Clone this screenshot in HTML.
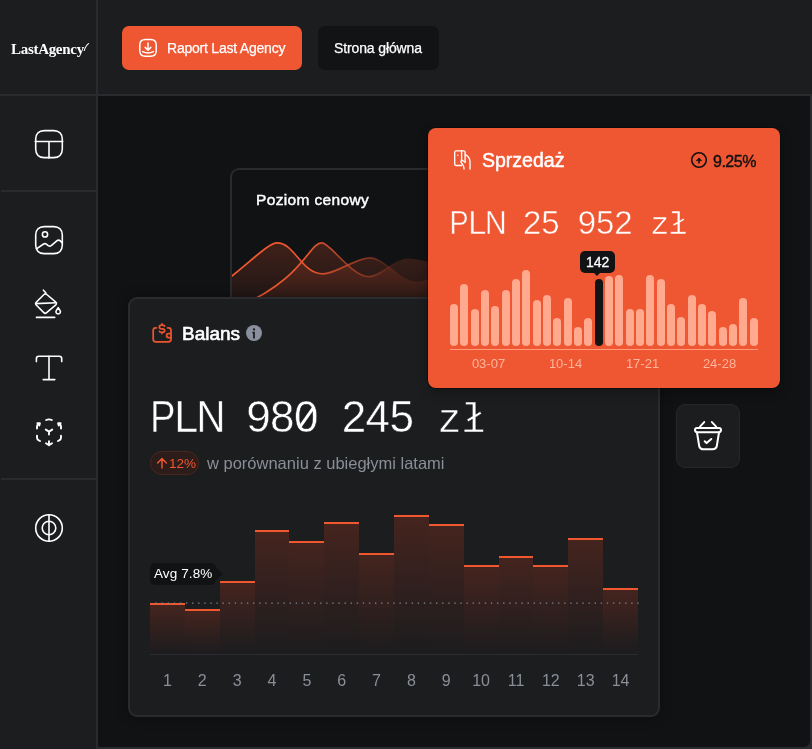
<!DOCTYPE html>
<html><head><meta charset="utf-8">
<style>
*{margin:0;padding:0;box-sizing:border-box}
html,body{width:812px;height:749px;overflow:hidden;background:#1c1d1f;font-family:"Liberation Sans",sans-serif;color:#fff}
.abs{position:absolute}
.vline{position:absolute;background:#2a2b2e}
#main{position:absolute;left:98px;top:96px;width:712px;height:651px;background:#111214;border-bottom-right-radius:6px;overflow:hidden}
.btn{position:absolute;top:26px;height:44px;border-radius:7px;font-size:14px;line-height:44px;white-space:nowrap}
.lbl{position:absolute;white-space:nowrap;will-change:transform}
.mono{position:absolute;display:flex;align-items:baseline;white-space:nowrap;font-family:"Liberation Sans",sans-serif;color:#fff}
.mono span{display:flex;justify-content:center;flex:none}
.mono i{font-style:normal;display:inline-block}
.z0{position:relative}
.z0:after{content:"";position:absolute;left:50%;top:50%;width:2.6px;height:25px;margin:-12.5px 0 0 -1.3px;background:#fff;transform:rotate(35deg)}
</style></head><body>
<!-- frame lines -->
<div class="vline" style="left:96px;top:0;width:2px;height:749px"></div>
<div class="vline" style="left:0;top:94px;width:812px;height:2px"></div>
<div class="vline" style="left:810px;top:96px;width:2px;height:653px"></div>
<div class="vline" style="left:98px;top:747px;width:714px;height:2px"></div>
<div class="vline" style="left:1px;top:190px;width:95px;height:2px"></div>
<div class="vline" style="left:1px;top:478px;width:95px;height:2px"></div>

<!-- logo -->
<div class="lbl" id="logo" style="left:11px;top:39px;font-family:'Liberation Serif',serif;font-weight:bold;font-size:15px;letter-spacing:-0.3px;line-height:20px">LastAgency</div>

<!-- header buttons -->
<div class="btn" style="left:122px;width:180px;background:#ef5632"></div>
<div class="lbl" id="t-raport" style="left:167px;top:38px;font-size:14px;line-height:20px;letter-spacing:-0.22px;-webkit-text-stroke:0.25px #fff">Raport Last Agency</div>
<div class="btn" style="left:318px;width:121px;background:#121315"></div>
<div class="lbl" id="t-strona" style="left:334px;top:38px;font-size:14px;line-height:20px;letter-spacing:-0.12px;-webkit-text-stroke:0.25px #fff">Strona główna</div>

<div class="vline" style="left:790px;top:727px;width:22px;height:22px"></div>
<div id="main"></div>



<style>
.card{position:absolute;border-radius:9px}
.sbar{position:absolute;width:8px;border-radius:4px}
.bbar{position:absolute;border-top:2.5px solid #f0572f;background:linear-gradient(#45241e,#1c1c1e)}
.blab{position:absolute;top:374px;width:35px;text-align:center;font-size:16px;color:#8a8e98;line-height:20px}
.slab{position:absolute;top:229px;width:77px;text-align:center;font-size:13px;color:#ffb49c;line-height:14px}
</style>
<!-- Poziom cenowy card -->
<div class="card" id="poziom" style="left:230px;top:168px;width:230px;height:160px;border:2px solid #2a2b2e;background:#111214;overflow:hidden">
  <div class="lbl" id="t-poziom" style="left:24px;top:20px;font-size:15.5px;line-height:20px;letter-spacing:0.35px;-webkit-text-stroke:0.45px #fff">Poziom cenowy</div>
  <svg class="abs" style="left:-2px;top:-2px" width="230" height="160" viewBox="230 168 230 160">
    <defs>
      <linearGradient id="fa" gradientUnits="userSpaceOnUse" x1="0" y1="240" x2="0" y2="300"><stop offset="0" stop-color="#f0572f" stop-opacity="0.22"/><stop offset="1" stop-color="#f0572f" stop-opacity="0.07"/></linearGradient>
      <linearGradient id="sa" gradientUnits="userSpaceOnUse" x1="230" y1="0" x2="430" y2="0"><stop offset="0" stop-color="#f5592f"/><stop offset="0.4" stop-color="#e8552f"/><stop offset="0.7" stop-color="#c84a2c" stop-opacity="0.5"/><stop offset="0.85" stop-color="#b8442a" stop-opacity="0"/></linearGradient>
    </defs>
    <path d="M215,289.4 C252,261 268.1,242.9 277.2,242.9 C294.8,242.9 301.5,273.9 323,273.9 C335.8,273.9 356,257.8 370,257.8 C384,257.8 400,281.5 417.6,281.5 C428,281.5 438,274 445,270 V330 H215 Z" fill="url(#fa)"/>
    <path d="M240,306 C304.2,278 308.6,242.9 322,242.9 C330.1,242.9 351.9,276.7 368.8,276.7 C382,276.7 394,258.5 408,258.5 C420,258.5 434,264 445,268 V330 H240 Z" fill="url(#fa)"/>
    <path d="M215,289.4 C252,261 268.1,242.9 277.2,242.9 C294.8,242.9 301.5,273.9 323,273.9 C335.8,273.9 356,257.8 370,257.8 C384,257.8 400,281.5 417.6,281.5 C428,281.5 438,274 445,270" stroke="url(#sa)" stroke-width="1.7" fill="none"/>
    <path d="M240,306 C304.2,278 308.6,242.9 322,242.9 C330.1,242.9 351.9,276.7 368.8,276.7 C382,276.7 394,258.5 408,258.5 C420,258.5 434,264 445,268" stroke="url(#sa)" stroke-width="1.7" fill="none"/>
  </svg>
</div>

<!-- Balans card -->
<div class="card" id="balans" style="left:128px;top:297px;width:532px;height:420px;border:2px solid #2a2b2e;background:#1c1d1f;box-shadow:0 0 12px rgba(0,0,0,0.35)">
</div>
<div class="abs" style="left:128px;top:297px;width:532px;height:420px">
  <div class="lbl" id="t-balans" style="left:54px;top:26px;font-size:19px;line-height:22px;-webkit-text-stroke:0.6px #fff">Balans</div>
  <div class="mono" id="t-big" style="left:22.9px;top:96px;font-size:44px;line-height:48px;-webkit-text-stroke:0.5px #1c1d1f"><span style="width:23.9px"><i style="transform:scaleX(0.87)">P</i></span><span style="width:23.9px"><i style="transform:scaleX(0.98)">L</i></span><span style="width:23.9px"><i style="transform:scaleX(0.91)">N</i></span><span style="width:23.9px"></span><span style="width:23.9px"><i>9</i></span><span style="width:23.9px"><i>8</i></span><span class="z0" style="width:23.9px"><i>0</i></span><span style="width:23.9px"></span><span style="width:23.9px"><i>2</i></span><span style="width:23.9px"><i>4</i></span><span style="width:23.9px"><i>5</i></span><span style="width:23.9px"></span><span style="width:23.9px;font-family:'Liberation Mono',monospace;font-size:40px"><i>z</i></span><span style="width:23.9px;font-family:'Liberation Mono',monospace;font-size:40px"><i>ł</i></span></div>
  <div class="abs" style="left:22px;top:154px;width:49px;height:24px;border-radius:12px;background:#2c1c1a;border:1px solid #4a2620"></div>
  <div class="lbl" id="t-12" style="left:41px;top:157.5px;font-size:13.5px;line-height:18px;color:#f0572f">12%</div>
  <div class="lbl" id="t-por" style="left:79px;top:157px;font-size:16.5px;line-height:18px;color:#8a8e98">w porównaniu z ubiegłymi latami</div>
  <div class="bbar" style="left:22.000px;top:306.0px;width:34.857px;height:51.0px"></div>
<div class="bbar" style="left:56.857px;top:311.8px;width:34.857px;height:45.2px"></div>
<div class="bbar" style="left:91.714px;top:283.7px;width:34.857px;height:73.3px"></div>
<div class="bbar" style="left:126.571px;top:233.0px;width:34.857px;height:124.0px"></div>
<div class="bbar" style="left:161.429px;top:244.0px;width:34.857px;height:113.0px"></div>
<div class="bbar" style="left:196.286px;top:225.0px;width:34.857px;height:132.0px"></div>
<div class="bbar" style="left:231.143px;top:256.0px;width:34.857px;height:101.0px"></div>
<div class="bbar" style="left:266.000px;top:217.8px;width:34.857px;height:139.2px"></div>
<div class="bbar" style="left:300.857px;top:226.8px;width:34.857px;height:130.2px"></div>
<div class="bbar" style="left:335.714px;top:268.0px;width:34.857px;height:89.0px"></div>
<div class="bbar" style="left:370.571px;top:259.0px;width:34.857px;height:98.0px"></div>
<div class="bbar" style="left:405.429px;top:268.0px;width:34.857px;height:89.0px"></div>
<div class="bbar" style="left:440.286px;top:241.0px;width:34.857px;height:116.0px"></div>
<div class="bbar" style="left:475.143px;top:291.0px;width:34.857px;height:66.0px"></div>
  <div class="abs" style="left:22px;top:357px;width:488px;height:1px;background:#2c2d30"></div>
  <svg class="abs" style="left:0;top:0" width="532" height="420"><line x1="27.4" y1="306.1" x2="512" y2="306.1" stroke="#80848e" stroke-width="1.3" stroke-dasharray="1.4 4.7"/></svg>
  <div class="blab" style="left:22.000px;width:34.857px">1</div><div class="blab" style="left:56.857px;width:34.857px">2</div><div class="blab" style="left:91.714px;width:34.857px">3</div><div class="blab" style="left:126.571px;width:34.857px">4</div><div class="blab" style="left:161.429px;width:34.857px">5</div><div class="blab" style="left:196.286px;width:34.857px">6</div><div class="blab" style="left:231.143px;width:34.857px">7</div><div class="blab" style="left:266.000px;width:34.857px">8</div><div class="blab" style="left:300.857px;width:34.857px">9</div><div class="blab" style="left:335.714px;width:34.857px">10</div><div class="blab" style="left:370.571px;width:34.857px">11</div><div class="blab" style="left:405.429px;width:34.857px">12</div><div class="blab" style="left:440.286px;width:34.857px">13</div><div class="blab" style="left:475.143px;width:34.857px">14</div>
  <div class="abs" style="left:22px;top:266px;width:66px;height:22px;border-radius:5px;background:#111214"></div>
  <div class="abs" style="left:87px;top:270px;width:0;height:0;border-top:7px solid transparent;border-bottom:7px solid transparent;border-left:8px solid #111214"></div>
  <div class="lbl" id="t-avg" style="left:26px;top:269px;font-size:13.5px;letter-spacing:0.1px;line-height:16px;color:#fff">Avg 7.8%</div>
</div>

<!-- basket button -->
<div class="card" style="left:676px;top:404px;width:64px;height:64px;background:#1c1d1f;border:1px solid #26272a;border-radius:9px"></div>

<!-- Sales card -->
<div class="card" id="sales" style="left:428px;top:128px;width:352px;height:260px;background:#ef5632;border-radius:8px;box-shadow:0 0 0 1px rgba(0,0,0,0.35),0 4px 12px rgba(0,0,0,0.3)">
  <div class="lbl" id="t-sprz" style="left:54px;top:21px;font-size:19.5px;line-height:22px;-webkit-text-stroke:0.5px #fff">Sprzedaż</div>
  <div class="lbl" id="t-925" style="left:285px;top:25px;font-size:16px;line-height:18px;color:#111;letter-spacing:-0.5px;-webkit-text-stroke:0.4px #111">9.25%</div>
  <div class="mono" id="t-pln" style="left:22.3px;top:77px;font-size:33px;line-height:36px;-webkit-text-stroke:0.5px #ef5632"><span style="width:18.23px"><i style="transform:scaleX(0.87)">P</i></span><span style="width:18.23px"><i style="transform:scaleX(0.98)">L</i></span><span style="width:18.23px"><i style="transform:scaleX(0.91)">N</i></span><span style="width:18.23px"></span><span style="width:18.23px"><i>2</i></span><span style="width:18.23px"><i>5</i></span><span style="width:18.23px"></span><span style="width:18.23px"><i>9</i></span><span style="width:18.23px"><i>5</i></span><span style="width:18.23px"><i>2</i></span><span style="width:18.23px"></span><span style="width:18.23px;font-family:'Liberation Mono',monospace;font-size:32px"><i>z</i></span><span style="width:18.23px;font-family:'Liberation Mono',monospace;font-size:32px"><i>ł</i></span></div>
  <div class="sbar" style="left:22.00px;top:175.8px;height:42.2px;background:#ffa98f"></div>
<div class="sbar" style="left:32.33px;top:156.0px;height:62.0px;background:#ffa98f"></div>
<div class="sbar" style="left:42.67px;top:181.0px;height:37.0px;background:#ffa98f"></div>
<div class="sbar" style="left:53.00px;top:162.0px;height:56.0px;background:#ffa98f"></div>
<div class="sbar" style="left:63.33px;top:177.8px;height:40.2px;background:#ffa98f"></div>
<div class="sbar" style="left:73.67px;top:162.0px;height:56.0px;background:#ffa98f"></div>
<div class="sbar" style="left:84.00px;top:151.0px;height:67.0px;background:#ffa98f"></div>
<div class="sbar" style="left:94.33px;top:141.7px;height:76.3px;background:#ffa98f"></div>
<div class="sbar" style="left:104.67px;top:172.0px;height:46.0px;background:#ffa98f"></div>
<div class="sbar" style="left:115.00px;top:166.7px;height:51.3px;background:#ffa98f"></div>
<div class="sbar" style="left:125.33px;top:189.8px;height:28.2px;background:#ffa98f"></div>
<div class="sbar" style="left:135.67px;top:169.8px;height:48.2px;background:#ffa98f"></div>
<div class="sbar" style="left:146.00px;top:198.8px;height:19.2px;background:#ffa98f"></div>
<div class="sbar" style="left:156.33px;top:189.8px;height:28.2px;background:#ffa98f"></div>
<div class="sbar" style="left:166.67px;top:151.0px;height:67.0px;background:#121314"></div>
<div class="sbar" style="left:177.00px;top:147.8px;height:70.2px;background:#ffa98f"></div>
<div class="sbar" style="left:187.33px;top:146.7px;height:71.3px;background:#ffa98f"></div>
<div class="sbar" style="left:197.67px;top:180.8px;height:37.2px;background:#ffa98f"></div>
<div class="sbar" style="left:208.00px;top:180.8px;height:37.2px;background:#ffa98f"></div>
<div class="sbar" style="left:218.33px;top:147.0px;height:71.0px;background:#ffa98f"></div>
<div class="sbar" style="left:228.67px;top:151.0px;height:67.0px;background:#ffa98f"></div>
<div class="sbar" style="left:239.00px;top:175.8px;height:42.2px;background:#ffa98f"></div>
<div class="sbar" style="left:249.33px;top:188.8px;height:29.2px;background:#ffa98f"></div>
<div class="sbar" style="left:259.67px;top:166.7px;height:51.3px;background:#ffa98f"></div>
<div class="sbar" style="left:270.00px;top:175.8px;height:42.2px;background:#ffa98f"></div>
<div class="sbar" style="left:280.33px;top:183.0px;height:35.0px;background:#ffa98f"></div>
<div class="sbar" style="left:290.67px;top:198.8px;height:19.2px;background:#ffa98f"></div>
<div class="sbar" style="left:301.00px;top:195.8px;height:22.2px;background:#ffa98f"></div>
<div class="sbar" style="left:311.33px;top:169.9px;height:48.1px;background:#ffa98f"></div>
<div class="sbar" style="left:321.67px;top:189.8px;height:28.2px;background:#ffa98f"></div>

  <div class="abs" style="left:22px;top:221px;width:308px;height:1px;background:#ff9a7c"></div>
  <div class="slab" style="left:22px">03-07</div><div class="slab" style="left:99px">10-14</div><div class="slab" style="left:176px">17-21</div><div class="slab" style="left:253px">24-28</div>
  <div class="abs" style="left:152px;top:123px;width:35px;height:22px;border-radius:5px;background:#121314"></div>
  <div class="abs" style="left:165px;top:144px;width:0;height:0;border-left:4.5px solid transparent;border-right:4.5px solid transparent;border-top:4px solid #121314"></div>
  <div class="lbl" id="t-142" style="left:158px;top:126px;font-size:14px;line-height:16px;-webkit-text-stroke:0.3px #fff">142</div>
</div>

<!-- sidebar + header icons -->
<svg class="abs" style="left:0;top:0" width="812" height="749" viewBox="0 0 812 749" fill="none" stroke="#fff" stroke-width="1.6" stroke-linecap="round" stroke-linejoin="round">
 <!-- layout -->
 <path d="M35.7,139.1 C35.7,133.83 38.93,130.6 44.2,130.6 H53.8 C59.07,130.6 62.3,133.83 62.3,139.1 V149.1 C62.3,154.37 59.07,157.6 53.8,157.6 H44.2 C38.93,157.6 35.7,154.37 35.7,149.1 Z"/>
 <path d="M35.3,141.5 H62.7 M49,141.5 V158"/>
 <!-- image -->
 <path d="M35.7,235.1 C35.7,229.83 38.93,226.6 44.2,226.6 H53.8 C59.07,226.6 62.3,229.83 62.3,235.1 V245.1 C62.3,250.37 59.07,253.6 53.8,253.6 H44.2 C38.93,253.6 35.7,250.37 35.7,245.1 Z"/>
 <circle cx="45" cy="234.4" r="2.6"/>
 <path d="M36.8,248.6 L43.6,244 C44.6,243.4 45.4,243.4 46.3,244.1 L48.2,245.6 C49.2,246.3 50.3,246.3 51.2,245.6 L56.8,240.8 C57.9,239.9 59.3,240 60.3,240.9 L62,242.6"/>
 <!-- bucket -->
 <path d="M43.4,290.2 L45.8,292.8"/>
 <path d="M44,294.5 C44.8,293.6 46,293.6 46.8,294.5 L55.8,302.2 C56.6,303 56.6,304 55.8,304.8 L46.6,312.6 C45.8,313.4 44.6,313.4 43.8,312.6 L36.2,305 C35.4,304.2 35.4,303 36.2,302.2 Z"/>
 <path d="M35.8,303.6 L56.4,302.8"/>
 <path d="M58.2,307.6 L56.3,310.6 C55.3,312.2 56.5,314 58.2,314 C59.9,314 61.1,312.2 60.1,310.6 Z"/>
 <path d="M36.4,317.4 H54.7"/>
 <!-- text T -->
 <path d="M36.4,361.6 V358.6 C36.4,357.2 37.4,356.3 38.8,356.3 H59.3 C60.7,356.3 61.7,357.2 61.7,358.6 V361.6"/>
 <path d="M49,356.3 V379.6 M43.2,379.6 H54.8"/>
 <!-- globe -->
 <circle cx="49" cy="528" r="13.3"/>
 <circle cx="49" cy="528" r="6.8"/>
 <path d="M49,514.7 V541.3"/>
 <!-- 3d rotate -->
 <g stroke-width="1.9">
 <path d="M46.2,420 C47.9,419.2 50.1,419.2 51.8,420"/>
 <path d="M37,428.6 V426.6 C37,425.4 37.6,424.5 38.6,423.9 L39.8,423.2 M37.4,423.3 L39.9,423.2 L39.3,425.6"/>
 <path d="M61,428.6 V426.6 C61,425.4 60.4,424.5 59.4,423.9 L58.2,423.2 M60.6,423.3 L58.1,423.2 L58.7,425.6"/>
 <path d="M37,435.8 V437.4 C37,438.5 37.6,439.6 38.6,440.2 L40,441"/>
 <path d="M61,435.8 V437.4 C61,438.5 60.4,439.6 59.4,440.2 L58,441"/>
 <path d="M49,441.2 V445 M46,443.2 L49,445.2 L52,443.2"/>
 <path d="M45.8,429.6 L49,431.6 L52.2,429.6 M49,431.6 V434.6"/>
 </g>
 
 <!-- download icon -->
 <path d="M139.8,45.1 C139.8,41.69 141.89,39.6 145.3,39.6 H150.7 C154.11,39.6 156.2,41.69 156.2,45.1 V50.7 C156.2,54.11 154.11,56.2 150.7,56.2 H145.3 C141.89,56.2 139.8,54.11 139.8,50.7 Z" stroke-width="1.5"/>
 <path d="M148,43 V50.2 M145.2,47.4 L148,50.2 L150.8,47.4" stroke-width="1.5"/>
 <path d="M142.6,51.6 C146,53.3 150,53.3 153.4,51.6" stroke-width="1.5"/>
 <!-- basket -->
 <g stroke-width="2">
 <path d="M704.2,422.1 L700,426.7 M711.9,422.1 L716.1,426.7"/>
 <path d="M697,428 H719 C720.2,428 721,428.9 721,430.1 C721,431.3 720.2,432.2 719,432.2 H697 C695.8,432.2 695,431.3 695,430.1 C695,428.9 695.8,428 697,428 Z"/>
 <path d="M697,432.5 L699.2,446 C699.6,448.3 701.3,449.3 703.6,449.3 H712.4 C714.7,449.3 716.4,448.3 716.8,446 L719,432.5"/>
 <path d="M704.7,441.2 L706.6,443.1 L711.3,439"/>
 </g>
 <!-- sales icon -->
 <g stroke-width="1.35">
 <path d="M465.1,162.2 V152.5 C465.1,151.6 464.4,150.9 463.5,150.9 H456.3 C455.4,150.9 454.7,151.6 454.7,152.5 V163.9 C454.7,164.8 455.4,165.5 456.3,165.5 H461.5"/>
 <path d="M461.6,151 V160.3"/>
 <path d="M465.1,162.2 L462.8,160.7 C461.7,160.1 460.4,161 461,162.2 L462.9,165 C463.6,166.1 464,167.2 464,168.4 V169"/>
 <path d="M465.3,154.6 C468.2,156 470,159 470,162.3 V169"/>
 </g>
 <circle cx="457.8" cy="155.2" r="0.8" fill="#fff" stroke="none"/>
 <!-- circle arrow -->
 <circle cx="699" cy="160" r="7.3" stroke="#111" stroke-width="1.6"/>
 <path d="M699,162.9 V159" stroke="#111" stroke-width="1.5"/>
 <path d="M696.6,160.4 L699,157.9 L701.4,160.4 Z" fill="#111" stroke="#111" stroke-width="0.7"/>
 <!-- wallet -->
 <g stroke="#ea552f" stroke-width="1.75">
 <path d="M156.4,327.8 H155.7 C154.3,327.8 153.2,328.9 153.2,330.3 V339.3 C153.2,340.7 154.3,341.8 155.7,341.8 H168.5 C169.9,341.8 171,340.7 171,339.3 V330.3 C171,328.9 169.9,327.8 168.5,327.8 H167.6"/>
 <path d="M171,333.6 H168.5 C167.4,333.6 166.6,334.4 166.6,335.5 C166.6,336.6 167.4,337.5 168.5,337.5 H171"/>
 <path d="M164.6,326.1 C164.3,325.5 163.5,325.2 162.4,325.2 H161.6 C160.3,325.2 159.3,326.1 159.3,327.2 C159.3,328.3 160.3,328.8 161.6,328.8 H162.4 C163.7,328.8 164.7,329.4 164.7,330.5 C164.7,331.6 163.7,332.3 162.4,332.3 H161.6 C160.5,332.3 159.7,332 159.4,331.4 M162,323.8 V325.2 M162,332.3 V333.4"/>
 </g>
 <!-- info -->
 <circle cx="254" cy="333" r="8" fill="#8a8f9e" stroke="none"/>
 <circle cx="254" cy="329.4" r="1.15" fill="#1c1d1f" stroke="none"/>
 <path d="M252.4,332.6 H254 V338.4" stroke="#1c1d1f" stroke-width="1.8" stroke-linecap="butt" stroke-linejoin="miter"/>
 <!-- 12% arrow -->
 <path d="M162,468 V458.8 M157.6,463 L162,458.6 L166.4,463" stroke="#f0572f" stroke-width="1.45"/>
 <!-- swoosh -->
 <path d="M84.2,50.5 C85.2,47.5 86.4,45 88.6,43.6" stroke-width="1.1"/>
</svg>

</body></html>
